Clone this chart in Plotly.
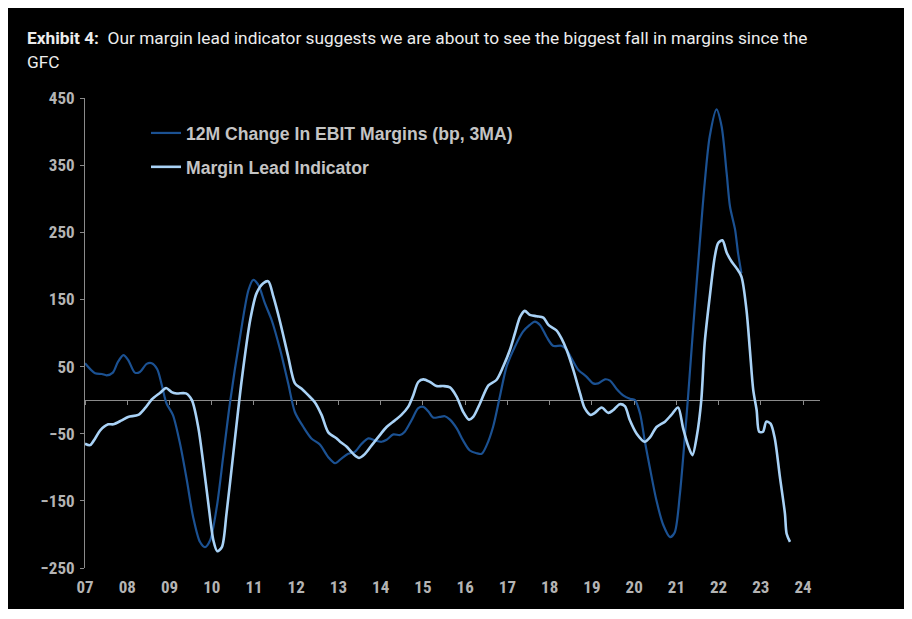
import plotly.graph_objects as go

# ---- data (decimal years, basis points) ----
ebit_x = [2007.00, 2007.24, 2007.40, 2007.51, 2007.66, 2007.78, 2007.91, 2008.02, 2008.18, 2008.30,
          2008.46, 2008.58, 2008.71, 2008.82, 2008.93, 2009.08, 2009.25, 2009.41, 2009.56, 2009.72,
          2009.84, 2009.96, 2010.12, 2010.27, 2010.43, 2010.67, 2010.87, 2010.98, 2011.10, 2011.26,
          2011.42, 2011.62, 2011.81, 2011.97, 2012.17, 2012.36, 2012.56, 2012.76, 2012.92, 2013.07,
          2013.23, 2013.39, 2013.55, 2013.71, 2013.86, 2014.02, 2014.14, 2014.30, 2014.46, 2014.57,
          2014.73, 2014.89, 2015.01, 2015.13, 2015.24, 2015.40, 2015.52, 2015.64, 2015.80, 2015.95,
          2016.11, 2016.27, 2016.39, 2016.51, 2016.66, 2016.82, 2016.98, 2017.18, 2017.37, 2017.53,
          2017.65, 2017.77, 2017.93, 2018.08, 2018.28, 2018.40, 2018.52, 2018.68, 2018.87, 2019.03,
          2019.15, 2019.31, 2019.43, 2019.58, 2019.74, 2019.90, 2020.02, 2020.14, 2020.25, 2020.37,
          2020.53, 2020.69, 2020.85, 2020.96, 2021.08, 2021.20, 2021.28, 2021.40, 2021.56, 2021.67,
          2021.79, 2021.95, 2022.07, 2022.19, 2022.27, 2022.39, 2022.46, 2022.54]
ebit_y = [55, 40, 39, 37, 41, 57, 67, 60, 41, 42,
          54, 55, 46, 22, -5, -22, -65, -119, -174, -211,
          -219, -209, -159, -85, -5, 94, 164, 179, 172, 144,
          119, 75, 25, -18, -40, -57, -66, -85, -94, -87,
          -80, -77, -65, -57, -60, -62, -59, -51, -52, -47,
          -30, -12, -10, -17, -26, -25, -24, -29, -42, -60,
          -75, -79, -80, -67, -40, 5, 50, 80, 102, 112,
          117, 112, 94, 81, 81, 75, 62, 45, 35, 25,
          25, 31, 29, 17, 7, 2, 0, -20, -60, -100,
          -150, -186, -204, -197, -142, -55, 8, 110, 239, 323,
          393, 433, 408, 338, 288, 254, 219, 189]

lead_x = [2007.00, 2007.12, 2007.24, 2007.36, 2007.55, 2007.67, 2007.87, 2008.02, 2008.26, 2008.42,
          2008.58, 2008.78, 2008.92, 2009.05, 2009.17, 2009.39, 2009.53, 2009.68, 2009.80, 2009.92,
          2010.04, 2010.13, 2010.24, 2010.35, 2010.51, 2010.71, 2010.91, 2011.06, 2011.22, 2011.34,
          2011.46, 2011.62, 2011.81, 2011.97, 2012.13, 2012.29, 2012.44, 2012.60, 2012.76, 2012.96,
          2013.04, 2013.19, 2013.35, 2013.49, 2013.63, 2013.79, 2013.98, 2014.14, 2014.34, 2014.49,
          2014.65, 2014.77, 2014.89, 2015.01, 2015.17, 2015.32, 2015.48, 2015.64, 2015.80, 2015.95,
          2016.09, 2016.19, 2016.35, 2016.55, 2016.74, 2016.90, 2017.06, 2017.18, 2017.30, 2017.41,
          2017.53, 2017.69, 2017.85, 2017.97, 2018.16, 2018.28, 2018.40, 2018.56, 2018.72, 2018.83,
          2018.97, 2019.07, 2019.23, 2019.39, 2019.50, 2019.66, 2019.78, 2019.90, 2020.06, 2020.25,
          2020.37, 2020.53, 2020.73, 2020.88, 2021.04, 2021.16, 2021.28, 2021.38, 2021.48, 2021.59,
          2021.67, 2021.79, 2021.91, 2021.99, 2022.09, 2022.19, 2022.31, 2022.42, 2022.54, 2022.66,
          2022.74, 2022.82, 2022.90, 2022.96, 2023.05, 2023.13, 2023.23, 2023.33, 2023.45, 2023.57,
          2023.61, 2023.69]
lead_y = [-65, -67, -57, -45, -36, -36, -30, -25, -22, -12,
          1, 11, 18, 12, 10, 10, 0, -40, -94, -154,
          -209, -225, -219, -169, -80, 30, 119, 159, 174, 177,
          154, 116, 65, 25, 17, 7, -3, -22, -48, -57,
          -62, -69, -80, -86, -80, -67, -52, -40, -30, -22,
          -10, 7, 27, 31, 27, 21, 21, 19, 5, -17,
          -29, -25, -5, 22, 30, 50, 75, 100, 124, 133,
          127, 125, 123, 112, 104, 92, 75, 45, 10, -12,
          -22, -19, -11, -19, -15, -6, -9, -30, -50, -62,
          -56, -40, -32, -22, -11, -42, -68, -82, -55, 0,
          85, 154, 214, 234, 238, 220, 206, 197, 184, 134,
          75, 15, -15, -47, -47, -32, -35, -57, -114, -169,
          -199, -211]

year_ticks = list(range(2007, 2025))
year_labels = ["07", "08", "09", "10", "11", "12", "13", "14", "15", "16",
               "17", "18", "19", "20", "21", "22", "23", "24"]
y_ticks = [-250, -150, -50, 50, 150, 250, 350, 450]

series_names = ["12M Change In EBIT Margins (bp, 3MA)", "Margin Lead Indicator"]
title_line1 = "<b>Exhibit 4:</b>  Our margin lead indicator suggests we are about to see the biggest fall in margins since the"
title_line2 = "GFC"

DARK = "#1b5192"
LIGHT = "#a9d2f6"
AXIS = "#8a8a8a"
LABEL = "#b4b4b4"
FONT = "Liberation Sans Narrow, Roboto Condensed, Liberation Sans, Arial, sans-serif"
LEGFONT = "Liberation Sans, Arial, sans-serif"
TFONT = "Roboto, Liberation Sans, sans-serif"

XR = [2007, 2024.4]

fig = go.Figure()
fig.add_trace(go.Scatter(x=ebit_x, y=ebit_y, mode="lines", name=series_names[0],
                         legendgroup="a",
                         line=dict(color=DARK, width=2.2, shape="spline", smoothing=0.8)))
fig.add_trace(go.Scatter(x=lead_x, y=lead_y, mode="lines", name=series_names[1],
                         legendgroup="b",
                         line=dict(color=LIGHT, width=2.6, shape="spline", smoothing=0.8)))
# empty carrier so the zero-line tick axis is drawn
fig.add_trace(go.Scatter(x=[XR[0]], y=[None], xaxis="x2", mode="lines",
                         showlegend=False, hoverinfo="skip"))

W, H = 897, 601
L, R, T, B = 77, 85, 90, 41
ph = H - T - B

def ypaper(yfig):
    return (H - B - yfig) / ph

fig.update_layout(
    width=W, height=H,
    margin=dict(l=L, r=R, t=T, b=B, pad=0),
    paper_bgcolor="black", plot_bgcolor="black",
    font=dict(family=FONT, color=LABEL),
    showlegend=True,
    legend=dict(x=0.083, y=ypaper(107), xanchor="left", yanchor="top",
                bgcolor="rgba(0,0,0,0)", traceorder="grouped", tracegroupgap=8,
                font=dict(family=LEGFONT, size=17.6, color="#c4c4c4", weight="bold"),
                itemwidth=30),
    xaxis=dict(range=XR, tickmode="array", tickvals=year_ticks, ticktext=year_labels,
               showgrid=False, zeroline=False, showline=False, ticks="",
               ticklabelstandoff=7,
               tickfont=dict(family=FONT, size=17, color=LABEL, weight="bold")),
    xaxis2=dict(range=XR, overlaying="x", anchor="free", position=250 / 700, side="bottom",
                tickmode="array", tickvals=year_ticks, showticklabels=False,
                ticks="outside", ticklen=4, tickwidth=1, tickcolor=AXIS,
                showgrid=False, zeroline=False, showline=False),
    yaxis=dict(range=[-250, 450], tickmode="array", tickvals=y_ticks,
               showgrid=False, zeroline=True, zerolinecolor=AXIS, zerolinewidth=1.2,
               showline=True, linecolor=AXIS, linewidth=1,
               ticks="outside", ticklen=4, tickcolor=AXIS, ticklabelstandoff=2,
               tickfont=dict(family=FONT, size=17, color=LABEL, weight="bold")),
)

fig.add_annotation(text=title_line1, xref="paper", yref="paper",
                   x=(17 - L) / (W - L - R), y=ypaper(30), xanchor="left", yanchor="middle",
                   showarrow=False, font=dict(family=TFONT, size=17.3, color="#ececec"))
fig.add_annotation(text=title_line2, xref="paper", yref="paper",
                   x=(17 - L) / (W - L - R), y=ypaper(54), xanchor="left", yanchor="middle",
                   showarrow=False, font=dict(family=TFONT, size=17.3, color="#ececec"))

fig.write_html("out.html")
